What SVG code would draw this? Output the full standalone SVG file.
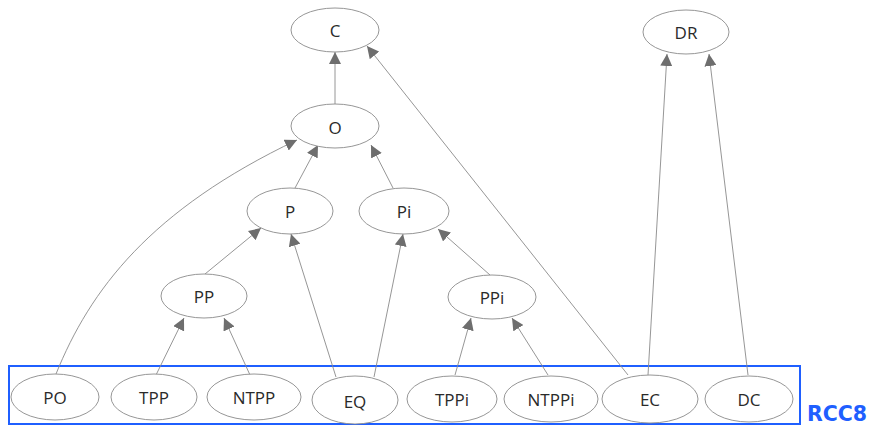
<svg xmlns="http://www.w3.org/2000/svg" width="870" height="426" viewBox="0 0 870 426">
<defs>
<marker id="ah" viewBox="0 0 10 10" refX="10" refY="5" markerWidth="12" markerHeight="12" markerUnits="userSpaceOnUse" orient="auto">
<path d="M0,0 L10,5 L0,10 z" fill="#6e6e6e"/>
</marker>
<style>
.n ellipse{fill:#fff;stroke:#8a8a8a;stroke-width:0.9}
.n text{font-family:"Open Sans","Noto Sans",sans-serif;font-size:17px;fill:#2a2a2a;text-anchor:middle;dominant-baseline:central}
#edges path,#edges line{fill:none;stroke:#8a8a8a;stroke-width:0.9;marker-end:url(#ah)}
</style>
</defs>
<rect width="870" height="426" fill="#fff"/>
<rect x="9" y="366" width="791" height="58" fill="none" stroke="#1f5fff" stroke-width="2"/>
<text x="807" y="421" font-family="'DejaVu Sans',sans-serif" font-size="20.5" font-weight="bold" fill="#1f5fff">RCC8</text>
<g id="edges">
<line x1="335" y1="104" x2="335" y2="52"/>
<line x1="628" y1="375" x2="367" y2="46"/>
<line x1="648" y1="375" x2="667" y2="54"/>
<line x1="748" y1="375" x2="709" y2="54"/>
<line x1="295" y1="188" x2="318" y2="145"/>
<line x1="393" y1="188" x2="371" y2="145"/>
<path d="M56,374 C90,290 150,210 297,140"/>
<line x1="205" y1="274" x2="261" y2="228"/>
<line x1="336" y1="377" x2="291" y2="234"/>
<line x1="374" y1="377" x2="403" y2="234"/>
<line x1="490" y1="275" x2="438" y2="229"/>
<line x1="156" y1="375" x2="184" y2="318"/>
<line x1="250" y1="375" x2="224" y2="318"/>
<line x1="455" y1="375" x2="471" y2="318"/>
<line x1="548" y1="375" x2="512" y2="318"/>
</g>
<g id="C" class="n"><ellipse cx="335" cy="30" rx="44" ry="22"/><text x="335" y="30">C</text></g>
<g id="DR" class="n"><ellipse cx="686" cy="32" rx="43" ry="22"/><text x="686" y="32">DR</text></g>
<g id="O" class="n"><ellipse cx="335" cy="126" rx="44" ry="22"/><text x="335" y="127">O</text></g>
<g id="P" class="n"><ellipse cx="290" cy="211" rx="43" ry="23"/><text x="290" y="211">P</text></g>
<g id="Pi" class="n"><ellipse cx="404" cy="211" rx="45" ry="23"/><text x="404" y="211">Pi</text></g>
<g id="PP" class="n"><ellipse cx="204" cy="296" rx="43" ry="22"/><text x="204" y="296">PP</text></g>
<g id="PPi" class="n"><ellipse cx="492" cy="297" rx="44" ry="22"/><text x="492" y="297">PPi</text></g>
<g id="PO" class="n"><ellipse cx="55" cy="397" rx="44" ry="23"/><text x="55" y="397">PO</text></g>
<g id="TPP" class="n"><ellipse cx="154" cy="397" rx="43" ry="23"/><text x="154" y="397">TPP</text></g>
<g id="NTPP" class="n"><ellipse cx="254" cy="397" rx="47" ry="23"/><text x="254" y="397">NTPP</text></g>
<g id="EQ" class="n"><ellipse cx="355" cy="400" rx="43" ry="24"/><text x="355" y="401">EQ</text></g>
<g id="TPPi" class="n"><ellipse cx="452" cy="399" rx="45" ry="23"/><text x="452" y="399">TPPi</text></g>
<g id="NTPPi" class="n"><ellipse cx="551" cy="399" rx="47" ry="23"/><text x="551" y="399">NTPPi</text></g>
<g id="EC" class="n"><ellipse cx="650" cy="399" rx="48" ry="24"/><text x="650" y="399">EC</text></g>
<g id="DC" class="n"><ellipse cx="749" cy="399" rx="44" ry="23"/><text x="749" y="399">DC</text></g>
</svg>
